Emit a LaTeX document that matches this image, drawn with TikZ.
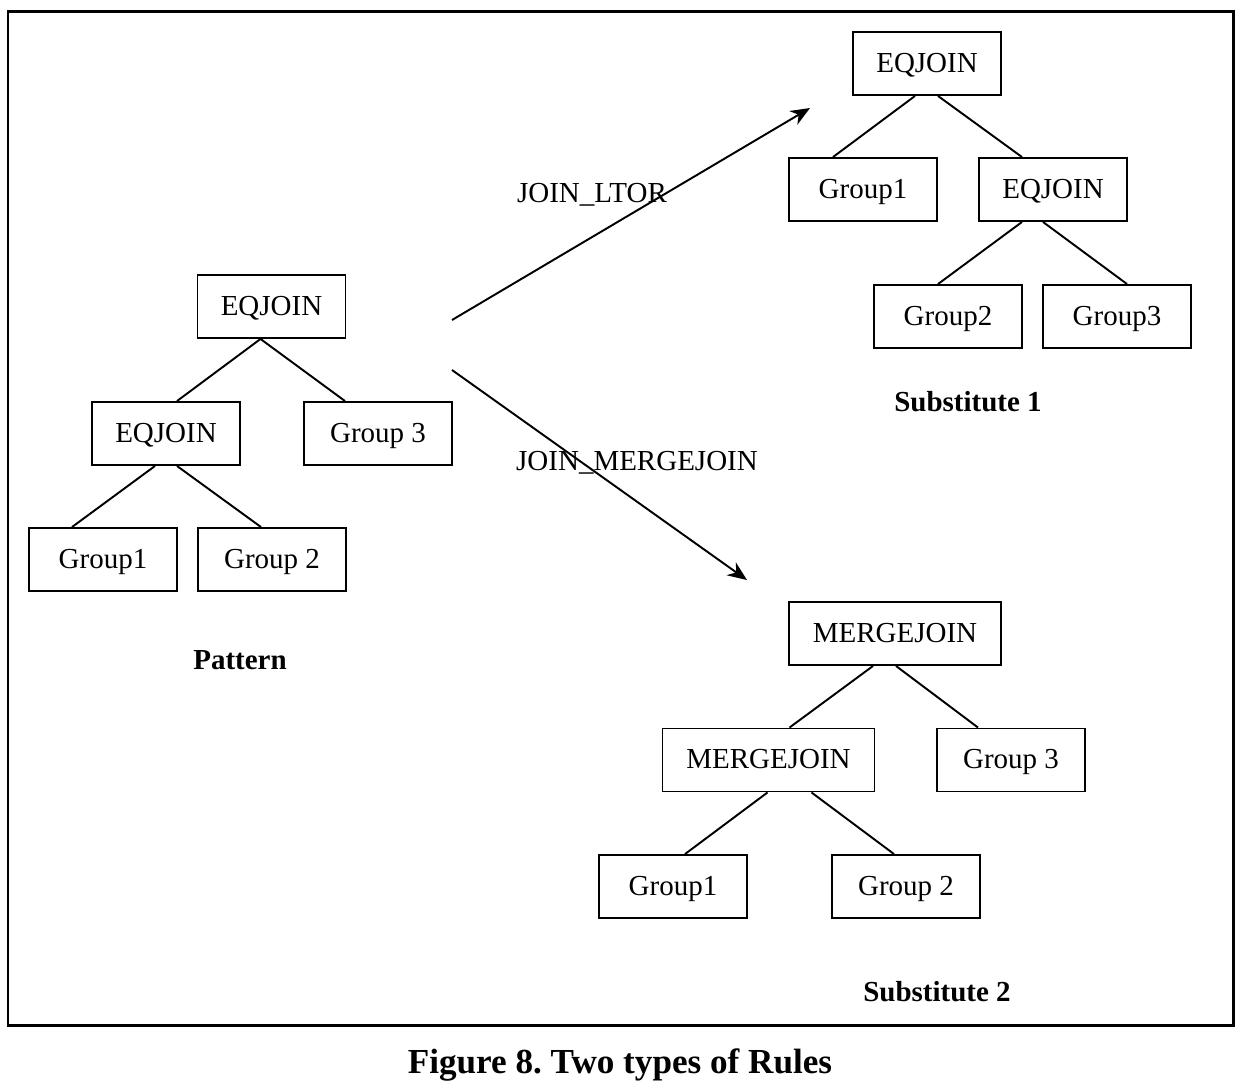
\documentclass[tikz,border=0pt]{standalone}
\usepackage{fontspec}
\setmainfont{Liberation Serif}
\usepackage{tikz}
\usetikzlibrary{calc}
\usetikzlibrary{arrows, arrows.meta, positioning}
\tikzset{font=\fontsize{16.5}{20}\selectfont}
\frenchspacing

\begin{document}
\begin{tikzpicture}[x=0.02cm,y=-0.02cm,>={Stealth[length=11pt,width=9pt,inset=3.5pt]},
                    line width=1.1pt]
  \tikzstyle{box}=[draw,rectangle,line width=1.1pt,minimum width=2.96cm,
                   minimum height=1.26cm,inner sep=0pt,text depth=0.25ex]
  \tikzstyle{widebox}=[box,minimum width=4.24cm]
  \tikzstyle{title}=[font=\fontsize{16.5}{20}\selectfont\bfseries]

  \useasboundingbox (0,0) rectangle (1240,1090);
  \draw[line width=1.7pt] (8,11) rectangle (1233,1025);

  % pattern
  \node[box]      (pat)   at (271.5,306.5)  {EQJOIN};
  \node[box]      (patL)  at (166,433.5)    {EQJOIN};
  \node[box]      (patR)  at (378,433.5)    {Group 3};
  \node[box]      (patLL) at (103,559.5)    {Group1};
  \node[box]      (patLR) at (272,559.5)    {Group 2};
  \node[title]    (patT)  at (240,660)      {Pattern};

  % substitute 1
  \node[box]      (sub)   at (927,63.5)     {EQJOIN};
  \node[box]      (subL)  at (863,189.5)    {Group1};
  \node[box]      (subR)  at (1053,189.5)   {EQJOIN};
  \node[box]      (subRL) at (948,316.5)    {Group2};
  \node[box]      (subRR) at (1117,316.5)   {Group3};
  \node[title]    (subT)  at (968,402)      {Substitute 1};

  % substitute 2
  \node[widebox]  (mrg)   at (895,633.5)    {MERGEJOIN};
  \node[widebox]  (mrgL)  at (768.5,760)    {MERGEJOIN};
  \node[box]      (mrgR)  at (1011,760)     {Group 3};
  \node[box]      (mrgLL) at (673,886.5)    {Group1};
  \node[box]      (mrgLR) at (906,886.5)    {Group 2};
  \node[title]    (mrgT)  at (937,992)      {Substitute 2};

  \node[font=\fontsize{20}{24}\selectfont\bfseries] (caption) at (620,1065)
       {Figure 8. Two types of Rules};

  \draw ($(pat.south)+(-11,0)$) -- ($(patL.north)+(11,0)$);
  \draw ($(pat.south)+(-11,0)$) -- ($(patR.north)+(-33,0)$);
  \draw ($(patL.south)+(-11,0)$) -- ($(patLL.north)+(-31,0)$);
  \draw ($(patL.south)+(11,0)$) -- ($(patLR.north)+(-11,0)$);

  \draw ($(sub.south)+(-12,0)$) -- ($(subL.north)+(-30,0)$);
  \draw ($(sub.south)+(11,0)$) -- ($(subR.north)+(-31,0)$);
  \draw ($(subR.south)+(-31,0)$) -- ($(subRL.north)+(-10,0)$);
  \draw ($(subR.south)+(-10,0)$) -- ($(subRR.north)+(10,0)$);

  \draw ($(mrg.south)+(-22,0)$) -- ($(mrgL.north)+(21,0)$);
  \draw ($(mrg.south)+(1,0)$) -- ($(mrgR.north)+(-33,0)$);
  \draw ($(mrgL.south)+(-1,0)$) -- ($(mrgLL.north)+(12,0)$);
  \draw ($(mrgL.south)+(43,0)$) -- ($(mrgLR.north)+(-12,0)$);

  % rules
  \coordinate (ltorS) at (452,320);
  \coordinate (ltorE) at (810,108);
  \coordinate (mjS)   at (452,370);
  \coordinate (mjE)   at (747,580);
  \draw[->] (ltorS) -- (ltorE);
  \draw[->] (mjS) -- (mjE);
  \node (ltor) at (592,195) {JOIN\_LTOR};
  \node (mj)   at (637,463) {JOIN\_MERGEJOIN};
\end{tikzpicture}
\end{document}
